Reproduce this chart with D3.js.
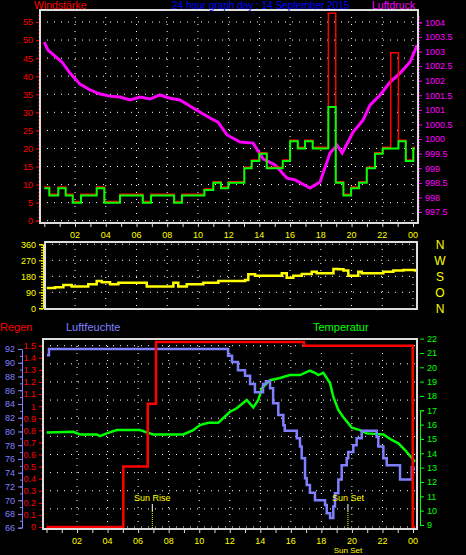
<!DOCTYPE html>
<html><head><meta charset="utf-8">
<script src="https://cdn.jsdelivr.net/npm/d3@7"></script>
<style>body{margin:0;background:#000}svg text{font-family:"Liberation Sans",Arial,sans-serif}</style>
</head><body><svg id="c" width="466" height="555"></svg>
<script>
// ---- data (hour of day, value) ----
var windAvg = [[0,9],[0.33,7],[0.91,9],[1.39,7],[1.85,5],[2.39,7],[3.41,9],[3.91,5],[4.93,7],[6.41,5],[6.95,7],[8.45,5],[8.96,7],[10.42,8.5],[11.0,10.5],[11.5,9],[11.98,10.5],[13.02,14.5],[13.5,16.5],[14.0,18.5],[14.48,14.5],[15.52,16.5],[16.0,22],[16.5,20],[16.97,22],[17.47,20],[18.49,31.5],[18.97,10.5],[19.47,7],[19.97,9],[20.49,10.5],[20.99,14.5],[21.53,18.5],[22.03,20],[23.05,22],[23.53,16.5],[24.02,20],[24.13,20]];
var windGust = [[0,9.3],[0.33,7.3],[0.91,9.3],[1.39,7.3],[1.85,5.3],[2.39,7.3],[3.41,9.3],[3.91,5.3],[4.93,7.3],[6.41,5.3],[6.95,7.3],[8.45,5.3],[8.96,7.3],[10.42,8.8],[11.0,10.8],[11.5,9.3],[11.98,10.8],[13.02,14.8],[13.5,16.8],[14.0,18.8],[14.48,14.8],[15.52,16.8],[16.0,22.3],[16.5,20.3],[16.97,22.3],[17.47,20.3],[18.49,57.4],[18.97,10.8],[19.47,7.3],[19.97,9.3],[20.49,10.8],[20.99,14.8],[21.53,18.8],[22.03,20.3],[22.55,46.5],[23.05,22.3],[23.53,16.8],[24.02,20.3],[24.13,20.3]];
var pressure = [[0,1003.32],[0.24,1003.05],[0.7,1002.84],[1.15,1002.64],[1.67,1002.26],[2.32,1001.88],[2.98,1001.68],[3.63,1001.54],[4.28,1001.47],[4.93,1001.44],[5.58,1001.34],[6.23,1001.44],[6.88,1001.37],[7.53,1001.51],[8.18,1001.40],[8.83,1001.34],[9.48,1001.13],[10.14,1000.92],[10.79,1000.72],[11.31,1000.58],[11.9,1000.14],[12.74,999.9],[13.59,999.86],[14.24,999.32],[15.02,999.11],[15.8,998.66],[16.32,998.6],[17.3,998.32],[17.95,998.53],[18.6,999.52],[19.06,999.79],[19.39,999.52],[19.77,999.9],[20.1,1000.24],[20.75,1000.65],[21.2,1001.16],[21.86,1001.51],[22.51,1001.95],[23.16,1002.26],[23.81,1002.64],[24.27,1003.22]];
var windDir = [[0.16,114],[0.7,118],[1.24,131],[1.78,122],[2.65,122],[2.86,135],[3.41,154],[3.74,146],[4.28,135],[4.82,144],[6.12,144],[6.67,122],[8.18,122],[8.4,144],[8.72,122],[9.27,135],[10.14,135],[10.35,144],[11.11,144],[11.33,154],[13.07,159],[13.28,191],[13.72,183],[15.23,183],[15.46,197],[15.78,172],[16.21,183],[16.76,193],[17.41,206],[17.73,197],[18.6,197],[18.82,221],[19.14,219],[19.47,212],[19.79,183],[20.12,183],[20.44,206],[20.66,197],[21.64,197],[22.07,206],[22.72,212],[23.37,216],[24.13,206]];
var rain = [[0,0],[5.03,0.5],[6.63,1.02],[7.17,1.53],[16.86,1.5],[23.98,0],[24.13,0]];
var humidity = [[0.03,91.1],[0.16,92],[11.89,91],[12.15,90.1],[12.54,88.9],[13.0,88.1],[13.33,86.9],[13.65,85.7],[14.18,86.9],[14.37,87.3],[14.64,86.3],[14.84,84.1],[15.18,82.4],[15.51,80.9],[15.6,80.1],[16.39,79.0],[16.6,77.8],[16.71,76.1],[16.93,73.2],[17.04,72.2],[17.25,71.1],[17.58,70.0],[18.24,69.3],[18.35,68.1],[18.57,67.4],[18.78,69.1],[18.89,71.0],[19.11,73.0],[19.33,75.1],[19.66,76.1],[19.76,77.0],[20.09,78.0],[20.31,79.0],[20.64,80.1],[21.62,79.2],[21.73,77.8],[22.06,76.1],[22.28,75.1],[23.15,73.0],[23.92,74.8],[24.02,74.5],[24.13,74.5]];
var temperature = [[0.01,15.46],[1.76,15.5],[2.19,15.32],[3.29,15.32],[3.5,15.2],[3.94,15.39],[4.6,15.62],[6.12,15.62],[6.56,15.46],[6.99,15.32],[8.96,15.32],[9.61,15.62],[10.05,15.97],[10.6,16.13],[11.25,16.13],[12.02,16.9],[12.46,17.14],[13.11,17.72],[13.54,17.2],[13.87,17.72],[14.11,18.55],[14.64,19.1],[15.29,19.25],[15.94,19.46],[16.6,19.46],[17.25,19.76],[17.58,19.62],[17.8,19.46],[18.13,19.62],[18.57,18.88],[18.78,17.95],[19.11,17.02],[19.44,16.51],[19.99,15.79],[20.53,15.62],[20.97,15.39],[22.06,15.32],[22.61,14.93],[23.04,14.7],[23.48,14.23],[23.81,13.81],[24.13,13.41]];
var hourLabels = ["02","04","06","08","10","12","14","16","18","20","22","00"];
var compass = ["N","W","S","O","N"];
var sunRise = 6.93, sunSet = 19.74;

var svg = d3.select("#c");
var fnt = 9;

function grid(g, xs, ys, x0, x1, y0, y1, xv, yv) {
  yv.forEach(function(v){ g.append("line").attr("x1",x0).attr("x2",x1).attr("y1",ys(v)).attr("y2",ys(v))
    .attr("stroke","#fff").attr("stroke-dasharray","1,6"); });
  xv.forEach(function(v){ g.append("line").attr("x1",xs(v)).attr("x2",xs(v)).attr("y1",y0).attr("y2",y1)
    .attr("stroke","#fff").attr("stroke-dasharray","1,6"); });
}
function frame(x0,x1,y0,y1){
  svg.append("rect").attr("x",x0).attr("y",y0).attr("width",x1-x0).attr("height",y1-y0)
    .attr("fill","none").attr("stroke","#ddd").attr("stroke-width",2);
}
function yAxis(scale, x, side, vals, minor, color, fmt) {
  var a = (side=="left" ? d3.axisLeft(scale) : d3.axisRight(scale)).tickValues(vals).tickSize(4).tickFormat(fmt || d3.format(""));
  var g = svg.append("g").attr("transform","translate("+x+",0)").call(a);
  g.selectAll("path,line").attr("stroke",color);
  g.selectAll("text").attr("fill",color).style("font-size",fnt+"px");
  if (minor) {
    var b = (side=="left" ? d3.axisLeft(scale) : d3.axisRight(scale)).tickValues(minor).tickSize(2).tickFormat("");
    var m = svg.append("g").attr("transform","translate("+x+",0)").call(b);
    m.select("path").remove(); m.selectAll("line").attr("stroke",color);
  }
  return g;
}
function xAxis(scale, y, labelY) {
  var hrs = d3.range(0,25);
  var g = svg.append("g").attr("transform","translate(0,"+y+")")
    .call(d3.axisBottom(scale).tickValues(hrs).tickSize(4).tickFormat(""));
  g.select("path").remove(); g.selectAll("line").attr("stroke","#ddd");
  hourLabels.forEach(function(t,i){
    svg.append("text").attr("x",scale(2*(i+1))).attr("y",labelY).attr("text-anchor","middle")
      .attr("fill","#ff0").style("font-size",fnt+"px").text(t);
  });
}
var evenHours = d3.range(2,25,2);

// ---- top panel: wind + pressure ----
var xT = d3.scaleLinear().domain([0,24]).range([44.3,413]);
var yW = d3.scaleLinear().domain([0,55]).range([220.7,22]);
var yP = d3.scaleLinear().domain([997.5,1004]).range([212,22.3]);
var gT = svg.append("g");
grid(gT, xT, yW, 40, 418, 10, 223, evenHours, d3.range(0,56,5));
yAxis(yW, 40, "left", d3.range(0,56,5), d3.range(0,58,1), "#f00");
yAxis(yP, 418, "right", d3.range(997.5,1004.1,0.5), d3.range(997.5,1004.2,0.1), "#f0f", function(d){return d3.format("")(+d.toFixed(1));});
svg.append("clipPath").attr("id","ct").append("rect").attr("x",40).attr("y",10).attr("width",378).attr("height",213);
var lineT = function(ys){ return d3.line().x(function(d){return xT(d[0]);}).y(function(d){return ys(d[1]);}); };
svg.append("path").datum(pressure).attr("clip-path","url(#ct)").attr("d",lineT(yP).curve(d3.curveLinear)).attr("fill","none").attr("stroke","#f0f").attr("stroke-width",3);
svg.append("path").datum(windGust).attr("d",lineT(yW).curve(d3.curveStepAfter)).attr("fill","none").attr("stroke","#f00").attr("stroke-width",1.5);
svg.append("path").datum(windAvg).attr("d",lineT(yW).curve(d3.curveStepAfter)).attr("fill","none").attr("stroke","#0f0").attr("stroke-width",2);
frame(40,418,10,223);
xAxis(xT, 223, 238);
svg.append("text").attr("x",34).attr("y",9).attr("fill","#f00").style("font-size","10.5px").text("Windstärke");
svg.append("text").attr("x",172).attr("y",9).attr("fill","#00f").style("font-size","10px").text("24 hour graph day : 14 September 2015");
svg.append("text").attr("x",372).attr("y",9).attr("fill","#f0f").style("font-size","10.5px").text("Luftdruck");

// ---- middle panel: wind direction ----
var xM = d3.scaleLinear().domain([0,24]).range([44.3,413]);
var yD = d3.scaleLinear().domain([0,360]).range([308.3,244.3]);
grid(svg.append("g"), xM, yD, 45, 417, 242, 309, evenHours, [90,180,270,360]);
yAxis(yD, 43, "left", [0,90,180,270,360], d3.range(0,361,15), "#ff0");
svg.append("path").datum(windDir).attr("d",lineT(yD).x(function(d){return xM(d[0]);}).curve(d3.curveStepAfter)).attr("fill","none").attr("stroke","#ff0").attr("stroke-width",2.5);
frame(45,417,242,309);
compass.forEach(function(c,i){
  svg.append("text").attr("x",440).attr("y",yD(360-90*i)+5).attr("text-anchor","middle").attr("fill","#ff0").style("font-size","12px").text(c);
});

// ---- bottom panel: rain, humidity, temperature ----
var xB = d3.scaleLinear().domain([0,24]).range([46.5,413]);
var yR = d3.scaleLinear().domain([0,1.5]).range([527,345.7]);
var yH = d3.scaleLinear().domain([66,92]).range([527.7,349]);
var yTe = d3.scaleLinear().domain([9,17]).range([525,410.3]);
grid(svg.append("g"), xB, yR, 43, 417, 339, 529, evenHours, d3.range(0,1.51,0.15));
yAxis(yR, 43, "left", d3.range(0,1.51,0.1).map(function(d){return +d.toFixed(1);}), d3.range(0,1.55,0.05), "#f00");
yAxis(yH, 22, "left", d3.range(66,93,2), d3.range(66,93,1), "#8080ff");
yAxis(yTe, 420, "right", d3.range(9,23,1), null, "#0f0");
svg.append("clipPath").attr("id","cb").append("rect").attr("x",43).attr("y",339).attr("width",374).attr("height",190);
var lineB = function(ys){ return d3.line().x(function(d){return xB(d[0]);}).y(function(d){return ys(d[1]);}); };
svg.append("path").datum(temperature).attr("clip-path","url(#cb)").attr("d",lineB(yTe)).attr("fill","none").attr("stroke","#0f0").attr("stroke-width",2.5);
svg.append("path").datum(humidity).attr("clip-path","url(#cb)").attr("d",lineB(yH).curve(d3.curveStepAfter)).attr("fill","none").attr("stroke","#8080ff").attr("stroke-width",2.5);
svg.append("path").datum(rain).attr("clip-path","url(#cb)").attr("d",lineB(yR).curve(d3.curveStepAfter)).attr("fill","none").attr("stroke","#f00").attr("stroke-width",2.5);
[[sunRise,"Sun Rise"],[sunSet,"Sun Set"]].forEach(function(s){
  var x = xB(s[0]);
  svg.append("line").attr("x1",x).attr("x2",x).attr("y1",504).attr("y2",511).attr("stroke","#fff");
  svg.append("line").attr("x1",x).attr("x2",x).attr("y1",511).attr("y2",528).attr("stroke","#ff0").attr("stroke-dasharray","1,1");
  svg.append("text").attr("x",x).attr("y",501).attr("text-anchor","middle").attr("fill","#ff0").style("font-size",fnt+"px").text(s[1]);
});
frame(43,417,339,529);
xAxis(xB, 529, 544);
svg.append("text").attr("x",xB(sunSet)).attr("y",553).attr("text-anchor","middle").attr("fill","#ff0").style("font-size","8px").text("Sun Set");
svg.append("text").attr("x",0).attr("y",331).attr("fill","#f00").style("font-size","11px").text("Regen");
svg.append("text").attr("x",66).attr("y",331).attr("fill","#8080ff").style("font-size","11px").text("Luftfeuchte");
svg.append("text").attr("x",313).attr("y",331).attr("fill","#0f0").style("font-size","11px").text("Temperatur");
</script></body></html>
